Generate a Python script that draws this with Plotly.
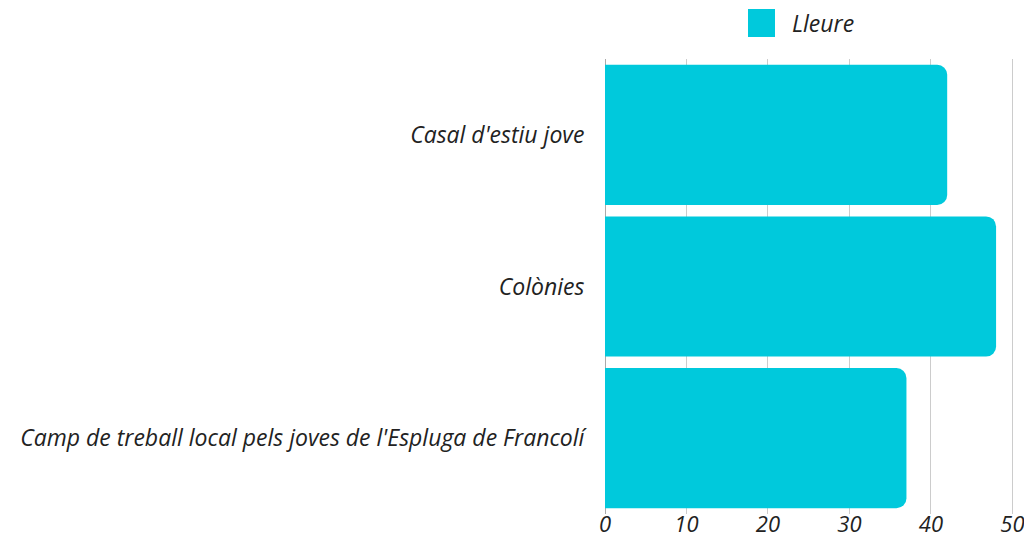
import plotly.graph_objects as go

categories = ["Casal d'estiu jove", "Colònies", "Camp de treball local pels joves de l'Espluga de Francolí"]
values = [42, 48, 37]
series_name = "Lleure"
tick_vals = [0, 10, 20, 30, 40, 50]

color = "#00c9dc"
font_family = "Open Sans"
text_color = "#222222"
fsize = 23

# figure sits inside the page body (8px default margin on every side)
W, H = 1016, 531
L, R, T, B = 597, 10, 51, 25
pw, ph = W - L - R, H - T - B

fig = go.Figure()
fig.add_trace(go.Bar(
    y=categories,
    x=values,
    orientation="h",
    name=series_name,
    marker=dict(color=color, line=dict(width=0)),
    showlegend=False,
    hoverinfo="x+y",
))

fig.update_layout(
    width=W,
    height=H,
    margin=dict(l=L, r=R, t=T, b=B, autoexpand=False),
    paper_bgcolor="white",
    plot_bgcolor="white",
    bargap=0.076,
    barcornerradius=10,
    font=dict(family=font_family, size=fsize, color=text_color, style="italic"),
    xaxis=dict(
        range=[0, 50.2],
        tickvals=tick_vals,
        showgrid=True,
        gridcolor="#cccccc",
        gridwidth=1,
        zeroline=True,
        zerolinecolor="#aaaaaa",
        zerolinewidth=1,
        ticks="",
        automargin=False,
        ticklabeloverflow="allow",
        ticklabelstandoff=-5,
        tickfont=dict(family=font_family, size=22, color=text_color, style="italic"),
        fixedrange=True,
    ),
    yaxis=dict(
        autorange="reversed",
        showgrid=False,
        ticks="outside",
        ticklen=15,
        tickcolor="rgba(0,0,0,0)",
        automargin=False,
        tickfont=dict(family=font_family, size=fsize, color=text_color, style="italic"),
        fixedrange=True,
    ),
    shapes=[dict(
        type="rect", xref="paper", yref="paper",
        x0=(740 - L) / pw, x1=(767 - L) / pw,
        y0=(H - B - 29) / ph, y1=(H - B - 1) / ph,
        fillcolor=color, line=dict(width=0),
    )],
    annotations=[dict(
        text=series_name, xref="paper", yref="paper",
        x=(782 - L) / pw, y=(H - B - 15) / ph,
        xanchor="left", yanchor="middle", showarrow=False,
        font=dict(family=font_family, size=fsize, color=text_color, style="italic"),
    )],
)

fig.write_html("out.html")
